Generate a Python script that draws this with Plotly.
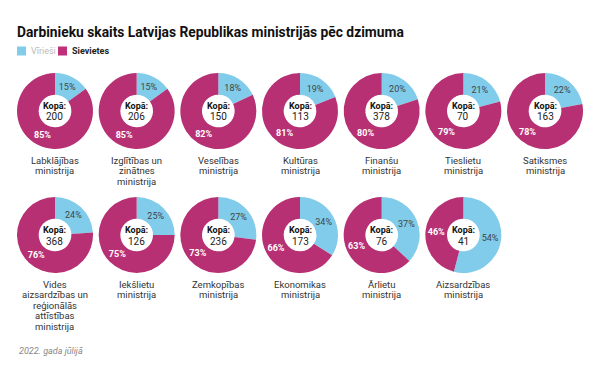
import plotly.graph_objects as go

# ---- data ----
ministries = [
    "Labklājības<br>ministrija",
    "Izglītības un<br>zinātnes<br>ministrija",
    "Veselības<br>ministrija",
    "Kultūras<br>ministrija",
    "Finanšu<br>ministrija",
    "Tieslietu<br>ministrija",
    "Satiksmes<br>ministrija",
    "Vides<br>aizsardzības un<br>reģionālās<br>attīstības<br>ministrija",
    "Iekšlietu<br>ministrija",
    "Zemkopības<br>ministrija",
    "Ekonomikas<br>ministrija",
    "Ārlietu<br>ministrija",
    "Aizsardzības<br>ministrija",
]
totals = [200, 206, 150, 113, 378, 70, 163, 368, 126, 236, 173, 76, 41]
male_pct = [15, 15, 18, 19, 20, 21, 22, 24, 25, 27, 34, 37, 54]
female_pct = [85, 85, 82, 81, 80, 79, 78, 76, 75, 73, 66, 63, 46]
series_names = ["Vīrieši", "Sievietes"]

# ---- style ----
W, H = 600, 380
BLUE = "#80CCEA"
PINK = "#B83074"
FONT = "Roboto"
ncols = 7
col_x0, col_step = 55, 81.67
row_y = [111, 235]
R = 38

def px_x(x):
    return x / W

def px_y(y):
    return 1 - y / H

fig = go.Figure()
annotations = []
for i, (name, tot, m, f) in enumerate(zip(ministries, totals, male_pct, female_pct)):
    r, c = divmod(i, ncols)
    cx = col_x0 + c * col_step
    cy = row_y[r]
    fig.add_trace(go.Pie(
        labels=series_names,
        values=[m, f],
        text=[f"{m}%", f"<b>{f}%</b>"],
        textinfo="text",
        textposition="inside",
        insidetextorientation="horizontal",
        insidetextfont=dict(family=FONT, size=9, color=["#444444", "#ffffff"]),
        marker=dict(colors=[BLUE, PINK], line=dict(width=0)),
        hole=0.43,
        sort=False,
        direction="clockwise",
        rotation=0,
        showlegend=False,
        hoverinfo="label+percent",
        domain=dict(x=[px_x(cx - R), px_x(cx + R)], y=[px_y(cy + R), px_y(cy - R)]),
    ))
    # centre text
    annotations.append(dict(
        x=px_x(cx), y=px_y(cy - 5), xref="paper", yref="paper",
        text="<b>Kopā:</b>", showarrow=False, xanchor="center", yanchor="middle",
        font=dict(family=FONT, size=9, color="#111111"),
    ))
    annotations.append(dict(
        x=px_x(cx), y=px_y(cy + 6), xref="paper", yref="paper",
        text=str(tot), showarrow=False, xanchor="center", yanchor="middle",
        font=dict(family=FONT, size=10, color="#222222"),
    ))
    # ministry label, one annotation per line to keep the tight line spacing
    for k, line in enumerate(name.split("<br>")):
        annotations.append(dict(
            x=px_x(cx), y=px_y(cy + 49 + k * 10.5), xref="paper", yref="paper",
            text=line, showarrow=False, xanchor="center", yanchor="middle",
            font=dict(family=FONT, size=9.5, color="#333333"),
        ))

# legend (manual)
shapes = [
    dict(type="rect", xref="paper", yref="paper",
         x0=px_x(17), x1=px_x(26), y0=px_y(55.5), y1=px_y(46.5),
         fillcolor=BLUE, line=dict(width=0)),
    dict(type="rect", xref="paper", yref="paper",
         x0=px_x(58), x1=px_x(67), y0=px_y(55.5), y1=px_y(46.5),
         fillcolor="#C0307A", line=dict(width=0)),
]
annotations.append(dict(x=px_x(29), y=px_y(51), xref="paper", yref="paper",
                        text=series_names[0], showarrow=False, xanchor="left", yanchor="middle",
                        font=dict(family=FONT, size=9, color="#bbbbbb")))
annotations.append(dict(x=px_x(70), y=px_y(51), xref="paper", yref="paper",
                        text=f"<b>{series_names[1]}</b>", showarrow=False, xanchor="left", yanchor="middle",
                        font=dict(family=FONT, size=9, color="#222222")))
# footer
annotations.append(dict(x=px_x(17), y=px_y(351), xref="paper", yref="paper",
                        text="<i>2022. gada jūlijā</i>", showarrow=False, xanchor="left", yanchor="middle",
                        font=dict(family=FONT, size=9, color="#888888")))

fig.update_layout(
    width=W, height=H,
    margin=dict(l=0, r=0, t=0, b=0),
    paper_bgcolor="white",
    plot_bgcolor="white",
    title=dict(text="<b>Darbinieku skaits Latvijas Republikas ministrijās pēc dzimuma</b>",
               x=17 / W, xanchor="left", y=1 - 32 / H, yanchor="middle",
               font=dict(family=FONT, size=13.8, color="#111111")),
    annotations=annotations,
    shapes=shapes,
    showlegend=False,
)

fig.write_html("out.html")
